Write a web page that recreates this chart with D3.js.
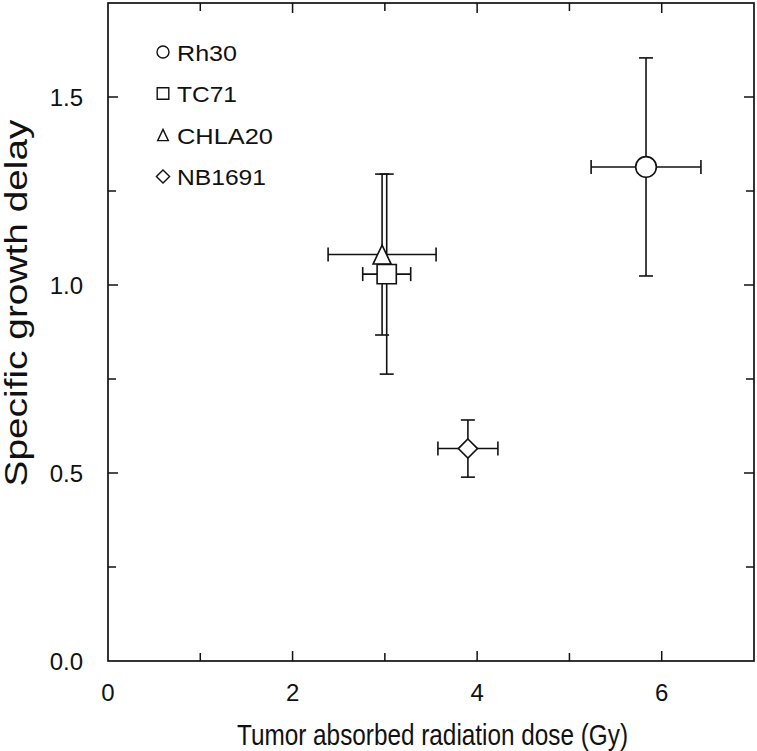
<!DOCTYPE html>
<html><head><meta charset="utf-8">
<script src="https://d3js.org/d3.v7.min.js"></script>
<style>body{margin:0;background:#fff}svg{display:block}text{font-family:"Liberation Sans",Arial,sans-serif;fill:#111}</style>
</head><body>
<script>
const lines = ["Rh30","TC71","CHLA20","NB1691"];
const symbols = ["circle","square","triangle","diamond"];
const dose = [5.83, 3.02, 2.97, 3.90];
const doseErr = [0.595, 0.26, 0.585, 0.325];
const delay = [1.314, 1.029, 1.081, 0.565];
const delayErr = [0.29, 0.266, 0.214, 0.076];
const xMajor = [0,2,4,6];
const xMinor = [1,3,5];
const yMajor = [0,0.5,1.0,1.5];
const yMinor = [0.25,0.75,1.25];

const W=757,H=751;
const svg=d3.select("body").append("svg").attr("width",W).attr("height",H);
const x=d3.scaleLinear().domain([0,7]).range([108,754]);
const y=d3.scaleLinear().domain([0,1.75]).range([661,3]);
const ink="#111";

svg.append("rect").attr("x",x(0)).attr("y",y(1.75)).attr("width",x(7)-x(0)).attr("height",y(0)-y(1.75))
  .attr("fill","none").attr("stroke",ink).attr("stroke-width",1.7);

function ticks(vals,len){
  vals.forEach(v=>{
    svg.append("line").attr("x1",x(v)).attr("x2",x(v)).attr("y1",y(0)).attr("y2",y(0)-len).attr("stroke",ink).attr("stroke-width",1.5);
    svg.append("line").attr("x1",x(v)).attr("x2",x(v)).attr("y1",y(1.75)).attr("y2",y(1.75)+len).attr("stroke",ink).attr("stroke-width",1.5);
  });
}
function yticks(vals,len){
  vals.forEach(v=>{
    svg.append("line").attr("x1",x(0)).attr("x2",x(0)+len).attr("y1",y(v)).attr("y2",y(v)).attr("stroke",ink).attr("stroke-width",1.5);
    svg.append("line").attr("x1",x(7)).attr("x2",x(7)-len).attr("y1",y(v)).attr("y2",y(v)).attr("stroke",ink).attr("stroke-width",1.5);
  });
}
ticks(xMajor.filter(v=>v>0),10); ticks(xMinor,8);
yticks(yMajor.filter(v=>v>0),10); yticks(yMinor,8);

xMajor.forEach(v=>svg.append("text").attr("x",x(v)).attr("y",701).attr("text-anchor","middle").attr("font-size",24).text(d3.format("d")(v)));
yMajor.forEach(v=>svg.append("text").attr("x",83).attr("y",y(v)+8.5).attr("text-anchor","end").attr("font-size",24).text(d3.format(".1f")(v)));

svg.append("text").attr("x",432.5).attr("y",745).attr("text-anchor","middle").attr("font-size",30)
  .attr("textLength",391).attr("lengthAdjust","spacingAndGlyphs").text("Tumor absorbed radiation dose (Gy)");
svg.append("text").attr("transform","translate(27,303) rotate(-90)").attr("text-anchor","middle").attr("font-size",31)
  .attr("textLength",367).attr("lengthAdjust","spacingAndGlyphs").text("Specific growth delay");

const cap=7;
lines.forEach((n,i)=>{
  const g=svg.append("g").attr("stroke",ink).attr("stroke-width",1.6);
  const cx=x(dose[i]),cy=y(delay[i]);
  const x0=x(dose[i]-doseErr[i]),x1=x(dose[i]+doseErr[i]);
  const y0=y(delay[i]-delayErr[i]),y1=y(delay[i]+delayErr[i]);
  g.append("line").attr("x1",x0).attr("x2",x1).attr("y1",cy).attr("y2",cy);
  g.append("line").attr("x1",x0).attr("x2",x0).attr("y1",cy-cap).attr("y2",cy+cap);
  g.append("line").attr("x1",x1).attr("x2",x1).attr("y1",cy-cap).attr("y2",cy+cap);
  g.append("line").attr("x1",cx).attr("x2",cx).attr("y1",y0).attr("y2",y1);
  g.append("line").attr("x1",cx-cap).attr("x2",cx+cap).attr("y1",y0).attr("y2",y0);
  g.append("line").attr("x1",cx-cap).attr("x2",cx+cap).attr("y1",y1).attr("y2",y1);
});

function shape(s,r){
  if(s==="circle"){const p=d3.path();p.moveTo(r,0);p.arc(0,0,r,0,2*Math.PI);p.closePath();return p.toString();}
  if(s==="square") return `M${-r},${-r}H${r}V${r}H${-r}Z`;
  if(s==="triangle") return `M0,${-r}L${r*0.95},${r}L${-r*0.95},${r}Z`;
  if(s==="diamond") return `M0,${-r}L${r},0L0,${r}L${-r},0Z`;
}
const symR={circle:10.3,square:9.6,triangle:9.5,diamond:9.6};
[2,1,0,3].forEach(i=>{
  const s=symbols[i];
  svg.append("path").attr("d",shape(s,symR[s]))
    .attr("transform",`translate(${x(dose[i])},${y(delay[i])})`)
    .attr("fill","#fff").attr("stroke",ink).attr("stroke-width",1.6);
});

const legBase=[60.5,102,143.5,185];
const legLen=[60,60,96,89];
const legR={circle:6,square:5.8,triangle:5.6,diamond:6.6};
lines.forEach((n,i)=>{
  const s=symbols[i];
  svg.append("path").attr("d",shape(s,legR[s]))
    .attr("transform",`translate(163,${legBase[i]-8.5})`).attr("fill","#fff").attr("stroke",ink).attr("stroke-width",1.4);
  svg.append("text").attr("x",177).attr("y",legBase[i]).attr("font-size",22)
    .attr("textLength",legLen[i]).attr("lengthAdjust","spacingAndGlyphs").text(n);
});
</script>
</body></html>
